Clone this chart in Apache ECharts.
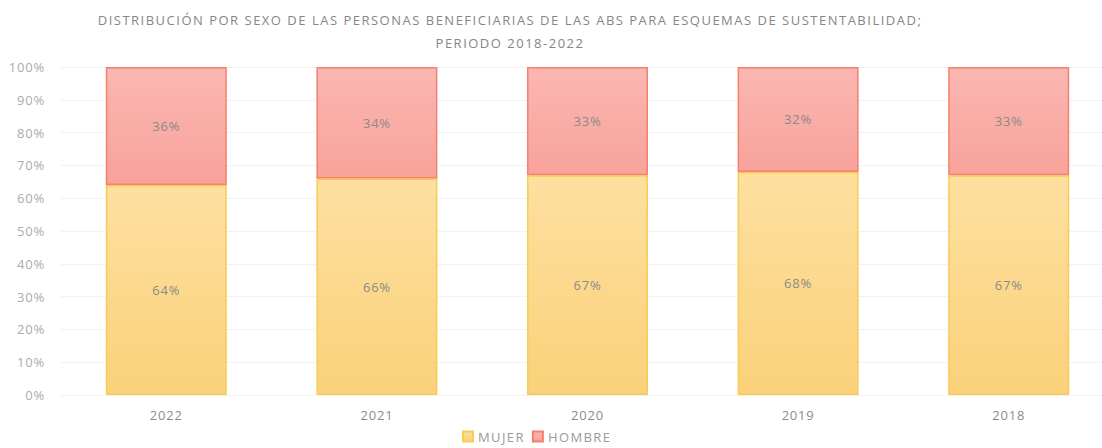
<!DOCTYPE html>
<html>
<head>
<meta charset="utf-8">
<script src="https://cdn.jsdelivr.net/npm/echarts@6/dist/echarts.min.js"></script>
<style>
  html, body { margin: 0; padding: 0; background: #fff; }
  #chart { width: 1102px; height: 448px; }
  /* texto espaciado como en la imagen original */
  #chart text { letter-spacing: 0.8px; }
  #chart text[fill="#868686"] { letter-spacing: 1.5px; }
  #chart text[fill="#999999"] { letter-spacing: 1.4px; }
</style>
</head>
<body>
<div id="chart"></div>
<script>
  // datos
  const years = ['2022', '2021', '2020', '2019', '2018'];
  const mujer = [64, 66, 67, 68, 67];
  const hombre = [36, 34, 33, 32, 33];

  const myChart = echarts.init(document.getElementById('chart'), null, { renderer: 'svg' });
  const font = 'Open Sans';

  const option = {
    backgroundColor: '#fff',
    title: {
      text: 'DISTRIBUCIÓN POR SEXO DE LAS PERSONAS BENEFICIARIAS DE LAS ABS PARA ESQUEMAS DE SUSTENTABILIDAD;\nPERIODO 2018-2022',
      left: 505,
      textAlign: 'center',
      top: 3,
      textStyle: {
        fontFamily: font,
        fontSize: 13,
        fontWeight: 'normal',
        color: '#868686',
        lineHeight: 23,
        align: 'center'
      }
    },
    legend: {
      bottom: 0,
      left: 457,
      itemWidth: 10,
      itemHeight: 10,
      itemGap: 14,
      icon: 'rect',
      textStyle: { fontFamily: font, fontSize: 13, color: '#999999' },
      data: ['MUJER', 'HOMBRE']
    },
    grid: {
      left: 61,
      top: 67,
      width: 1053,
      bottom: 53,
      outerBoundsMode: 'none'
    },
    xAxis: {
      type: 'category',
      data: years,
      axisLine: { show: false },
      axisTick: { show: false },
      axisLabel: { color: '#8c8c8c', fontFamily: font, fontSize: 13, margin: 13 }
    },
    yAxis: {
      type: 'value',
      min: 0,
      max: 100,
      interval: 10,
      axisLine: { show: false },
      axisTick: { show: false },
      axisLabel: {
        color: '#ababab',
        fontFamily: font,
        fontSize: 13,
        margin: 16,
        formatter: '{value}%'
      },
      splitLine: { lineStyle: { color: '#f2f2f2' } }
    },
    series: [
      {
        name: 'MUJER',
        type: 'bar',
        stack: 'total',
        barWidth: 121,
        data: mujer,
        itemStyle: {
          color: new echarts.graphic.LinearGradient(0, 0, 0, 1, [
            { offset: 0, color: '#fde0a0' },
            { offset: 1, color: '#fbd17a' }
          ]),
          borderColor: '#f8cb55',
          borderWidth: 1.5
        },
        label: {
          show: true,
          position: 'inside',
          formatter: '{c}%',
          color: '#8a8a8a',
          fontFamily: font,
          fontSize: 13
        }
      },
      {
        name: 'HOMBRE',
        type: 'bar',
        stack: 'total',
        barWidth: 121,
        data: hombre,
        itemStyle: {
          color: new echarts.graphic.LinearGradient(0, 0, 0, 1, [
            { offset: 0, color: '#fbb7b2' },
            { offset: 1, color: '#f8a29b' }
          ]),
          borderColor: '#f4806e',
          borderWidth: 1.5
        },
        label: {
          show: true,
          position: 'inside',
          formatter: '{c}%',
          color: '#8a8a8a',
          fontFamily: font,
          fontSize: 13
        }
      }
    ]
  };

  myChart.setOption(option);
  window.addEventListener('resize', function () {
    myChart.resize();
  });
</script>
</body>
</html>
